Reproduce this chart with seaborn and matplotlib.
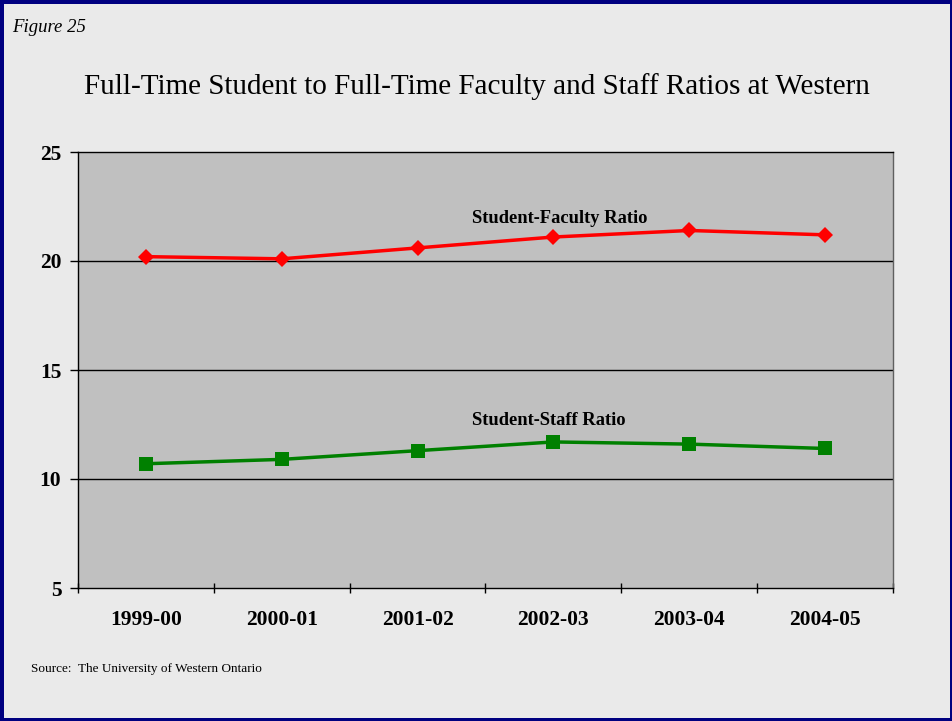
import matplotlib
matplotlib.use("Agg")
import matplotlib.pyplot as plt
import seaborn as sns
import pandas as pd
import numpy as np

years = ["1999-00", "2000-01", "2001-02", "2002-03", "2003-04", "2004-05"]
faculty_ratio = [20.2, 20.1, 20.6, 21.1, 21.4, 21.2]
staff_ratio = [10.7, 10.9, 11.3, 11.7, 11.6, 11.4]
y_ticks = [5, 10, 15, 20, 25]

sns.set_style("white")
plt.rcParams['font.family'] = ['Liberation Serif', 'DejaVu Serif']
plt.rcParams['text.color'] = 'black'
plt.rcParams['xtick.color'] = 'black'
plt.rcParams['ytick.color'] = 'black'

df = pd.DataFrame({
    "year": years * 2,
    "ratio": faculty_ratio + staff_ratio,
    "series": ["Student-Faculty Ratio"] * len(years) + ["Student-Staff Ratio"] * len(years),
})

fig = plt.figure(figsize=(9.53, 7.21), dpi=100, facecolor="#EAEAEA",
                 edgecolor="#000080", linewidth=5)
ax = fig.add_axes([78/953, 1-588/721, (893-78)/953, (588-152)/721])
ax.set_facecolor("#C0C0C0")

sns.lineplot(data=df, x="year", y="ratio", hue="series", style="series",
             palette={"Student-Faculty Ratio": "#FF0000", "Student-Staff Ratio": "#008000"},
             markers={"Student-Faculty Ratio": "D", "Student-Staff Ratio": "s"},
             dashes=False, linewidth=2.5, markersize=9, markeredgewidth=0,
             ax=ax, legend=False, sort=False, zorder=3)
for line in ax.get_lines():
    if line.get_marker() == "D":
        line.set_markersize(8)
    elif line.get_marker() == "s":
        line.set_markersize(10)

ax.set_xlim(-0.5, len(years) - 0.5)
ax.set_ylim(5, 25)
ax.set_yticks(y_ticks)
ax.set_yticklabels([str(t) for t in y_ticks], fontsize=15.5, fontweight="bold", color="black")
for t in [10, 15, 20]:
    ax.axhline(t, color="black", linewidth=1, zorder=1)

ax.set_xticks(range(len(years)))
ax.set_xticklabels(years, fontsize=15.5, fontweight="bold", color="black")
ax.tick_params(axis="x", which="major", bottom=False, length=0, pad=16)
ax.set_xticks(np.arange(-0.5, len(years), 1.0), minor=True)
ax.tick_params(axis="x", which="minor", bottom=True, length=7, width=1, color="black", direction="inout")
ax.tick_params(axis="y", which="major", left=True, length=6, width=1, color="black", direction="out", pad=6)
ax.set_xlabel("")
ax.set_ylabel("")

for side in ["left", "bottom", "top"]:
    ax.spines[side].set_color("black")
    ax.spines[side].set_linewidth(1)
ax.spines["right"].set_color("#606060")
ax.spines["right"].set_linewidth(1)

ax.text(2.4, 21.95, "Student-Faculty Ratio", fontsize=13.3, fontweight="bold", ha="left", va="center", color="black")
ax.text(2.4, 12.7, "Student-Staff Ratio", fontsize=13.3, fontweight="bold", ha="left", va="center", color="black")

fig.text(12/953, 1-27/721, "Figure 25", fontsize=13.5, style="italic", ha="left", va="center", color="black")
fig.text(477/953, 1-87/721, "Full-Time Student to Full-Time Faculty and Staff Ratios at Western",
         fontsize=21, ha="center", va="center", color="black")
fig.text(31/953, 1-669/721, "Source:  The University of Western Ontario", fontsize=9.5,
         ha="left", va="center", color="black")

fig.savefig("out.png", dpi=100, facecolor=fig.get_facecolor(), edgecolor=fig.get_edgecolor())
